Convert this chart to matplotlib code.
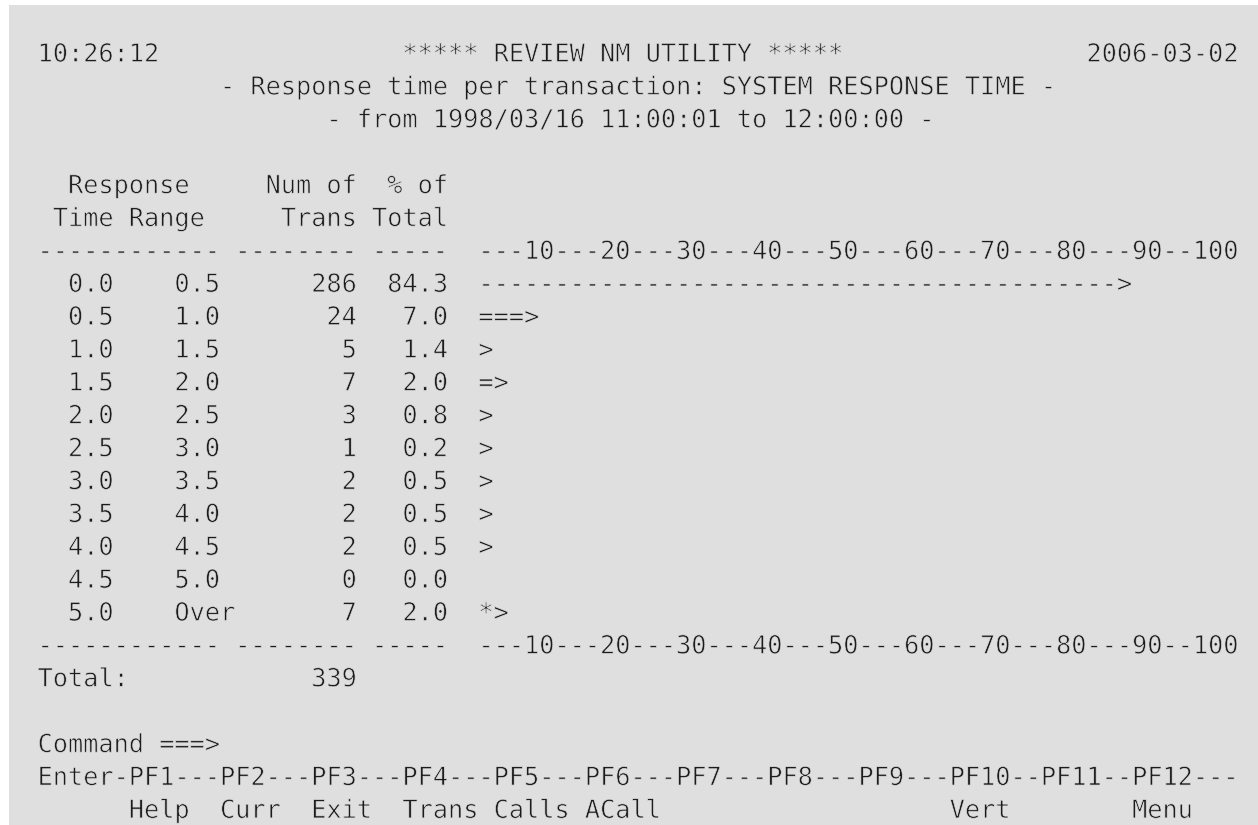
import math
import matplotlib
matplotlib.use("Agg")
import matplotlib.pyplot as plt
import matplotlib.patheffects as pe
from matplotlib.patches import Rectangle

# данные экрана
time_from = ["0.0", "0.5", "1.0", "1.5", "2.0", "2.5", "3.0", "3.5", "4.0", "4.5", "5.0"]
time_to = ["0.5", "1.0", "1.5", "2.0", "2.5", "3.0", "3.5", "4.0", "4.5", "5.0", "Over"]
num_trans = [286, 24, 5, 7, 3, 1, 2, 2, 2, 0, 7]
pct_total = [84.3, 7.0, 1.4, 2.0, 0.8, 0.2, 0.5, 0.5, 0.5, 0.0, 2.0]
bar_fill = ["-", "=", "=", "=", "=", "=", "=", "=", "=", "=", "*"]
scale_ticks = [10, 20, 30, 40, 50, 60, 70, 80, 90, 100]
pf_keys = ["PF1", "PF2", "PF3", "PF4", "PF5", "PF6", "PF7", "PF8", "PF9", "PF10", "PF11", "PF12"]
pf_names = ["Help", "Curr", "Exit", "Trans", "Calls", "ACall", "", "", "", "Vert", "", "Menu"]

clock = "10:26:12"
date = "2006-03-02"
title = "***** REVIEW NM UTILITY *****"
subtitle = "- Response time per transaction: SYSTEM RESPONSE TIME -"
period = "- from 1998/03/16 11:00:01 to 12:00:00 -"

# геометрия терминала (пиксели)
W, H = 1258, 825
X0 = 22.4      # левый край колонки 0
CW = 15.2      # ширина символа
Y0 = 61.7      # базовая линия первой строки
LH = 32.88     # шаг строк
BG = "#dfdfdf"
FG = "#1c1c1c"


def place(line, col, text):
    """Вставляет text в строку начиная с колонки col."""
    line = line.ljust(col)
    return line[:col] + text + line[col + len(text):]


total = sum(num_trans)
scale = "".join(f"{t:->5}" for t in scale_ticks)
sep = " " + "-" * 12 + " " + "-" * 8 + " " + "-" * 5 + "  " + scale

lines = [""] * 24
lines[0] = place(place(place("", 1, clock), 25, title), 70, date)
lines[1] = place("", 13, subtitle)
lines[2] = place("", 20, period)
lines[4] = "   Response     Num of  % of"
lines[5] = "  Time Range     Trans Total"
lines[6] = sep
for i in range(len(time_from)):
    n = math.ceil(num_trans[i] * 50 / total)
    bar = bar_fill[i] * (n - 1) + ">" if n > 0 else ""
    row = f"   {time_from[i]:<7}{time_to[i]:<4}{num_trans[i]:>8}{pct_total[i]:>6.1f}  {bar}"
    lines[7 + i] = row
lines[18] = sep
lines[19] = f" {'Total:':<13}{total:>8}"
lines[21] = " Command ===>"
keys = " Enter-" + "".join(
    (k if j == 0 else ("--" if len(pf_keys[j - 1]) == 4 else "---") + k) for j, k in enumerate(pf_keys)
) + "---"
lines[22] = keys
names = ""
for k, nm in zip(pf_keys, pf_names):
    if nm:
        names = place(names, keys.index(k + "-"), nm)
lines[23] = names

fig = plt.figure(figsize=(W / 100, H / 100), dpi=100)
ax = fig.add_axes([0, 0, 1, 1])
ax.set_xlim(0, W)
ax.set_ylim(H, 0)
ax.axis("off")
ax.add_patch(Rectangle((9, 5), W - 9, H - 5, facecolor=BG, edgecolor="none"))

fs = CW / 0.602 * 72 / 100  # кегль под ширину ячейки DejaVu Sans Mono
thin = [pe.Stroke(linewidth=0.5, foreground=BG)]  # делает штрихи тоньше
for i, line in enumerate(lines):
    if line.strip():
        ax.text(X0, Y0 + i * LH, line, family="DejaVu Sans Mono", fontsize=fs,
                color=FG, va="baseline", ha="left", path_effects=thin)

fig.savefig("out.png", dpi=100, facecolor="white")
